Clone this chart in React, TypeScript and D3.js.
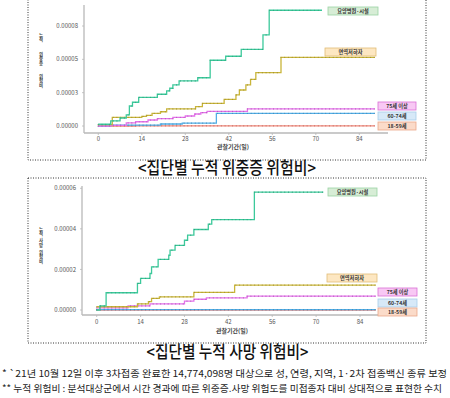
import React from 'react';
import * as d3 from 'd3';

type Pt = [number, number];

// groups, drawn bottom to top in reverse order
const groups = ['요양병원·시설', '면역저하자', '75세 이상', '60-74세', '18-59세'];
const lineColors = ['#3cc99b', '#c9b53a', '#e472ea', '#52aee6', '#f0877a'];
const boxFills = ['#d7edd6', '#fde7c2', '#f8c8f4', '#d7e9f8', '#fbdbc9'];
const boxStrokes = ['#9ad3a4', '#e2bd78', '#d970d6', '#a9cde9', '#eaa98a'];

const dayTicks = [0, 14, 28, 42, 56, 70, 84];
const severeTicks = [0, 0.000025, 0.00005, 0.000075];
const severeTickLabels = ['0.00000', '0.00003', '0.00005', '0.00008'];
const deathTicks = [0, 0.00002, 0.00004, 0.00006];
const deathTickLabels = ['0.00000', '0.00002', '0.00004', '0.00006'];

// 누적 위중증 위험비 (day, value)
const careSevere: Pt[] = [[0, 0.13e-5], [4, 0.38e-5], [7, 0.6e-5], [9, 0.83e-5], [10, 1.5e-5], [11, 1.78e-5], [13, 2.15e-5], [19, 2.38e-5], [22, 2.63e-5], [23, 2.83e-5], [24, 3.08e-5], [26, 3.38e-5], [32, 3.62e-5], [36, 4.93e-5], [41, 5.23e-5], [46, 5.75e-5], [53, 6.83e-5], [55, 8.68e-5], [72, 8.68e-5]];
const immuneSevere: Pt[] = [[0, 0.1e-5], [4.5, 0.65e-5], [14, 0.72e-5], [15.5, 0.8e-5], [17.3, 0.95e-5], [20, 1.07e-5], [22, 1.28e-5], [31.3, 1.45e-5], [33.5, 1.7e-5], [40.5, 2.0e-5], [44.3, 2.33e-5], [45.4, 2.7e-5], [47.5, 3.08e-5], [49, 3.5e-5], [50.7, 4.0e-5], [58.8, 5.15e-5], [89, 5.15e-5]];
const old75Severe: Pt[] = [[0, 0], [4, 0.05e-5], [9, 0.23e-5], [12, 0.32e-5], [16, 0.45e-5], [19, 0.55e-5], [24, 0.65e-5], [28, 0.75e-5], [31, 0.9e-5], [33, 1.0e-5], [35, 1.1e-5], [48, 1.28e-5], [89, 1.28e-5]];
const mid60Severe: Pt[] = [[0, 0], [4, 0.07e-5], [20, 0.15e-5], [27, 0.22e-5], [38, 0.95e-5], [89, 0.95e-5]];
const young18Severe: Pt[] = [[0, 0], [12, 0.01e-5], [89, 0.01e-5]];

// 누적 사망 위험비
const careDeath: Pt[] = [[0, 0], [1, 0.2e-5], [3, 0.85e-5], [13, 1.31e-5], [14, 1.56e-5], [17, 1.8e-5], [17.5, 2.13e-5], [19.6, 2.5e-5], [23, 2.7e-5], [23.4, 2.95e-5], [25, 3.19e-5], [28, 3.44e-5], [29, 3.69e-5], [31, 3.97e-5], [35.6, 4.23e-5], [36.7, 4.46e-5], [50.3, 5.81e-5], [72.3, 5.81e-5]];
const immuneDeath: Pt[] = [[0, 0.16e-5], [13, 0.3e-5], [16.5, 0.41e-5], [17.5, 0.57e-5], [20, 0.65e-5], [31, 0.87e-5], [44, 1.23e-5], [89, 1.23e-5]];
const old75Death: Pt[] = [[0, 0.1e-5], [10, 0.2e-5], [17, 0.3e-5], [28, 0.44e-5], [31, 0.53e-5], [35, 0.6e-5], [48, 0.68e-5], [89, 0.68e-5]];
const mid60Death: Pt[] = [[0, 0.02e-5], [89, 0.02e-5]];
const young18Death: Pt[] = [[0, 0], [89, 0]];

const font = '"Noto Sans CJK KR", "Noto Sans", sans-serif';

interface Layout {
  xRange: [number, number];
  yRange: [number, number];
  axisX: number;
  axisTop: number;
  axisY: number;
  axisRight: number;
  tickLabelY: number;
  xTitleY: number;
  xTitleX: number;
  boxY: number[];
  boxX: number[];
  boxW: number[];
  titleGroups: [string, number][];
}

const severeLayout: Layout = {
  xRange: [98.3, 359.3],
  yRange: [126, 26],
  axisX: 84,
  axisTop: 5,
  axisY: 133,
  axisRight: 388,
  tickLabelY: 141,
  xTitleY: 148.5,
  xTitleX: 233,
  boxY: [7, 48, 102, 112, 122],
  boxX: [328, 325, 378, 378, 378],
  boxW: [50, 51, 38, 38, 38],
  titleGroups: [['누적', 35], ['위중증', 54], ['위험비', 76]]
};

const deathLayout: Layout = {
  xRange: [96.7, 360],
  yRange: [310, 188.3],
  axisX: 82,
  axisTop: 186,
  axisY: 315,
  axisRight: 388,
  tickLabelY: 324,
  xTitleY: 332.8,
  xTitleX: 232,
  boxY: [188, 274, 288, 299, 308],
  boxX: [328, 327, 378, 378, 378],
  boxW: [49, 50, 39, 39, 39],
  titleGroups: [['누적', 229], ['사망', 240.5], ['위험비', 252]]
};

interface ChartProps {
  series: Pt[][];
  ticks: number[];
  tickLabels: string[];
  layout: Layout;
}

const StepChart: React.FC<ChartProps> = ({ series, ticks, tickLabels, layout }) => {
  const x = d3.scaleLinear().domain([0, 84]).range(layout.xRange);
  const y = d3.scaleLinear().domain([ticks[0], ticks[ticks.length - 1]]).range(layout.yRange);
  const line = d3.line<Pt>().x(d => x(d[0])).y(d => y(d[1])).curve(d3.curveStepAfter);

  // censor-mark style dots along each line
  const marks = (s: Pt[]) => {
    const last = s[s.length - 1][0];
    const out: Pt[] = [];
    for (let d = 0; d <= last; d += 1.2) {
      const i = d3.bisector((p: Pt) => p[0]).right(s, d) - 1;
      out.push([d, s[Math.max(0, i)][1]]);
    }
    return out;
  };

  return (
    <g>
      {/* axes */}
      <line x1={layout.axisX} x2={layout.axisX} y1={layout.axisTop} y2={layout.axisY} stroke="#b8b8b8" strokeWidth={1.3} />
      <line x1={layout.axisX} x2={layout.axisRight} y1={layout.axisY} y2={layout.axisY} stroke="#b8b8b8" strokeWidth={1.3} />
      {ticks.map((t, i) => (
        <g key={i}>
          <line x1={layout.axisX - 2} x2={layout.axisX} y1={y(t)} y2={y(t)} stroke="#b8b8b8" strokeWidth={0.8} />
          <text x={layout.axisX - 6} y={y(t)} dy="0.35em" textAnchor="end" fontSize={6} fill="#555" fontFamily={font}>{tickLabels[i]}</text>
        </g>
      ))}
      {dayTicks.map(d => (
        <g key={d}>
          <line x1={x(d)} x2={x(d)} y1={layout.axisY} y2={layout.axisY + 2} stroke="#b8b8b8" strokeWidth={0.8} />
          <text x={x(d)} y={layout.tickLabelY} textAnchor="middle" fontSize={6} fill="#555" fontFamily={font}>{d}</text>
        </g>
      ))}
      <text x={layout.xTitleX} y={layout.xTitleY} textAnchor="middle" fontSize={6} fontWeight="bold" fill="#444" fontFamily={font}>관찰기간(일)</text>
      {layout.titleGroups.map(([word, top]) =>
        word.split('').map((ch, j) => (
          <text key={word + j} x={41} y={top + j * 4.9} dy="0.35em" textAnchor="middle" fontSize={4.4} fontWeight="bold" fill="#444" fontFamily={font}>{ch}</text>
        ))
      )}
      {/* lines */}
      {series.map((s, i) => ({ s, i })).reverse().map(({ s, i }) => (
        <g key={i}>
          <path d={line(s) || ''} fill="none" stroke={lineColors[i]} strokeWidth={1.3} />
          {marks(s).map((p, k) => (
            <circle key={k} cx={x(p[0])} cy={y(p[1])} r={0.6} fill={d3.color(lineColors[i])!.darker(0.6).toString()} />
          ))}
        </g>
      ))}
      {/* labels */}
      {groups.map((g, i) => (
        <g key={g}>
          <rect x={layout.boxX[i]} y={layout.boxY[i]} width={layout.boxW[i]} height={8} fill={boxFills[i]} stroke={boxStrokes[i]} strokeWidth={0.8} />
          <text x={layout.boxX[i] + layout.boxW[i] / 2} y={layout.boxY[i] + 4} dy="0.36em" textAnchor="middle" fontSize={5.2} fontWeight="bold" fill="#333" fontFamily={font}>{g}</text>
        </g>
      ))}
    </g>
  );
};

const App: React.FC = () => {
  return (
    <svg width={450} height={398} style={{ position: 'absolute', left: 0, top: 0, background: '#fff' }}>
      <rect x={0} y={0} width={450} height={398} fill="#fff" />
      <rect x={28} y={-2} width={398} height={162} fill="none" stroke="#333" strokeWidth={1} strokeDasharray="1 1.5" />
      <rect x={28} y={178} width={398} height={165} fill="none" stroke="#333" strokeWidth={1} strokeDasharray="1 1.5" />
      <StepChart
        series={[careSevere, immuneSevere, old75Severe, mid60Severe, young18Severe]}
        ticks={severeTicks}
        tickLabels={severeTickLabels}
        layout={severeLayout}
      />
      <StepChart
        series={[careDeath, immuneDeath, old75Death, mid60Death, young18Death]}
        ticks={deathTicks}
        tickLabels={deathTickLabels}
        layout={deathLayout}
      />
      <text x={227} y={168} dy="0.36em" textAnchor="middle" fontSize={17} fontWeight={500} fill="#111" fontFamily={font} textLength={178} lengthAdjust="spacingAndGlyphs">&lt;집단별 누적 위중증 위험비&gt;</text>
      <text x={227.5} y={352} dy="0.36em" textAnchor="middle" fontSize={17} fontWeight={500} fill="#111" fontFamily={font} textLength={162} lengthAdjust="spacingAndGlyphs">&lt;집단별 누적 사망 위험비&gt;</text>
      <text x={2} y={374} dy="0.36em" fontSize={9.5} fill="#222" fontFamily={font} textLength={445} lengthAdjust="spacingAndGlyphs">* `21년 10월 12일 이후 3차접종 완료한 14,774,098명 대상으로 성, 연령, 지역, 1·2차 접종백신 종류 보정</text>
      <text x={2} y={388.5} dy="0.36em" fontSize={9.5} fill="#222" fontFamily={font} textLength={440} lengthAdjust="spacingAndGlyphs">** 누적 위험비 : 분석대상군에서 시간 경과에 따른 위중증.사망 위험도를 미접종자 대비 상대적으로 표현한 수치</text>
    </svg>
  );
};

export default App;
